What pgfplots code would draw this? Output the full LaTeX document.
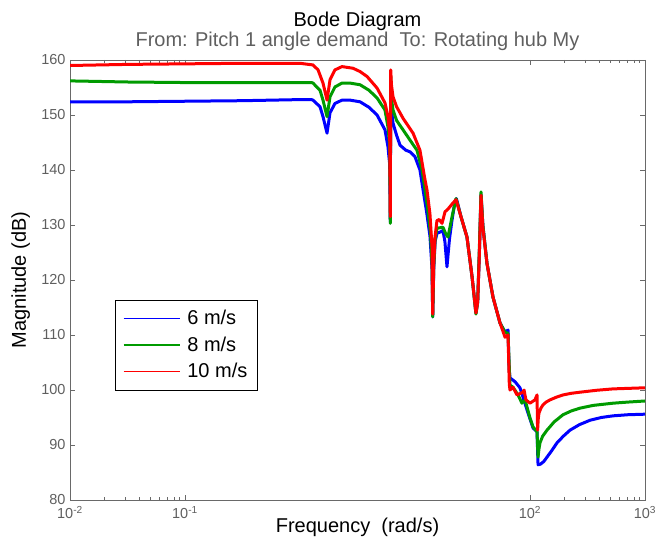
\documentclass[border=0pt]{standalone}
\usepackage{pgfplots}
\pgfplotsset{compat=1.18}
\usepackage{fontspec}
\setmainfont{Liberation Sans}
\definecolor{mblue}{RGB}{0,0,255}
\definecolor{mgreen}{RGB}{0,155,0}
\definecolor{mred}{RGB}{255,0,0}
\definecolor{axgray}{RGB}{105,105,105}
\definecolor{txtgray}{RGB}{95,95,95}
\newcommand{\fL}{\fontsize{20bp}{24bp}\selectfont}
\newcommand{\fT}{\fontsize{14.5bp}{17bp}\selectfont}

\pgfplotstableread{
L M
-2.000 152.4
-1.500 152.4
-1.000 152.5
-0.500 152.6
0.000 152.8
0.100 152.8
0.113 152.7
0.174 151.5
0.200 149.7
0.235 146.7
0.261 150.4
0.304 152.1
0.365 152.7
0.435 152.7
0.522 152.4
0.600 151.4
0.670 150.0
0.739 147.3
0.765 144.2
0.780 141.0
0.785 130.5
0.789 156.0
0.795 151.0
0.809 148.5
0.840 146.3
0.870 144.5
0.920 143.6
0.957 143.3
1.000 142.4
1.043 140.0
1.070 136.4
1.100 132.5
1.130 128.0
1.148 122.0
1.154 113.3
1.163 122.0
1.175 127.0
1.191 128.5
1.217 128.7
1.243 129.0
1.260 127.0
1.278 122.4
1.300 127.5
1.322 130.9
1.345 134.0
1.360 134.8
1.400 131.5
1.452 127.8
1.496 120.6
1.530 114.0
1.545 116.0
1.560 125.0
1.574 135.5
1.590 130.0
1.626 123.0
1.678 116.9
1.739 112.2
1.783 110.5
1.809 110.9
1.818 104.0
1.826 102.2
1.870 101.5
1.913 100.4
1.939 98.7
1.983 95.8
2.026 93.1
2.061 92.4
2.070 86.4
2.090 86.5
2.120 87.0
2.148 87.8
2.190 89.0
2.235 90.4
2.290 91.6
2.348 92.7
2.430 93.7
2.522 94.5
2.620 95.0
2.722 95.3
2.850 95.5
3.000 95.6
}\tblue

\pgfplotstableread{
L M
-2.000 156.2
-1.500 156.0
-1.000 155.9
-0.500 155.9
0.000 155.9
0.100 155.9
0.113 155.8
0.174 154.5
0.200 152.7
0.235 149.7
0.261 153.3
0.304 155.1
0.365 155.8
0.435 155.8
0.522 155.5
0.600 154.5
0.670 153.1
0.739 150.9
0.765 147.8
0.780 144.5
0.785 130.3
0.789 157.0
0.795 153.0
0.809 150.9
0.840 149.0
0.896 147.3
0.974 144.9
1.017 143.6
1.061 140.0
1.087 136.4
1.110 133.0
1.135 128.5
1.148 123.0
1.154 113.3
1.163 122.5
1.175 127.5
1.191 129.4
1.217 129.5
1.243 129.6
1.265 128.5
1.287 127.8
1.322 131.5
1.357 134.8
1.400 131.5
1.452 127.8
1.496 120.6
1.530 113.8
1.545 116.0
1.560 126.0
1.574 136.0
1.590 130.0
1.626 123.0
1.678 116.9
1.739 112.2
1.783 110.5
1.809 110.3
1.820 104.0
1.826 100.9
1.852 100.5
1.896 99.1
1.930 97.6
1.957 98.2
1.974 96.9
2.000 94.9
2.026 93.3
2.061 92.4
2.070 87.8
2.078 89.3
2.087 90.4
2.110 91.6
2.148 92.7
2.210 94.2
2.287 95.5
2.360 96.2
2.435 96.7
2.550 97.2
2.722 97.6
2.850 97.8
3.000 98.0
}\tgreen

\pgfplotstableread{
L M
-2.000 159.0
-1.500 159.2
-1.000 159.3
-0.500 159.4
0.000 159.4
0.113 159.1
0.157 158.2
0.200 155.8
0.235 152.7
0.261 156.4
0.304 158.2
0.365 158.8
0.461 158.5
0.522 157.9
0.583 157.0
0.670 154.9
0.739 152.2
0.765 149.7
0.780 146.5
0.785 131.5
0.789 158.2
0.795 155.5
0.809 153.3
0.840 151.5
0.896 149.4
0.983 146.7
1.043 143.6
1.087 138.2
1.104 136.4
1.130 132.0
1.148 126.0
1.154 113.8
1.163 123.0
1.174 127.8
1.191 130.8
1.210 131.0
1.235 130.3
1.250 131.5
1.261 132.4
1.287 132.9
1.330 134.0
1.357 134.6
1.400 131.5
1.452 127.8
1.496 120.6
1.530 114.0
1.545 116.0
1.560 125.0
1.574 135.4
1.590 129.5
1.626 123.0
1.678 116.9
1.739 112.2
1.783 109.6
1.809 110.0
1.820 101.0
1.826 100.0
1.852 100.5
1.887 99.1
1.939 99.6
1.948 100.0
1.965 98.2
2.000 97.6
2.043 98.2
2.061 99.1
2.066 92.7
2.072 94.8
2.078 95.8
2.095 96.7
2.113 97.3
2.140 97.8
2.174 98.2
2.230 98.7
2.287 99.1
2.360 99.4
2.435 99.6
2.580 99.95
2.722 100.2
3.000 100.4
}\tred

\begin{document}
\begin{tikzpicture}
\begin{axis}[
  scale only axis, width=575bp, height=440bp,
  xmin=-2, xmax=3, ymin=80, ymax=160,
  xtick={-2,-1,2,3},
  xticklabels={10\textsuperscript{-2},10\textsuperscript{-1},10\textsuperscript{2},10\textsuperscript{3}},
  minor xtick={-1.699,-1.523,-1.398,-1.301,-1.222,-1.155,-1.097,-1.046,2.301,2.477,2.602,2.699,2.778,2.845,2.903,2.954},
  ytick={80,90,...,160},
  tick align=inside,
  major tick length=5bp, minor tick length=3bp,
  axis line style={axgray, line width=0.6bp},
  every tick/.style={axgray, line width=0.6bp},
  tick label style={font=\fT, text=txtgray},
  /pgf/number format/assume math mode=true,
  xticklabel style={yshift=-3bp},
  yticklabel style={xshift=-1bp},
  legend image code/.code={\draw[#1, line width=1.3bp] (0bp,0bp) -- (56bp,0bp);},
  legend style={at={(rel axis cs:0.078,0.4545)}, anchor=north west, draw=black, font=\fL, legend cell align=left, fill=white, column sep=5bp, inner xsep=8bp, inner ysep=5bp, nodes={inner sep=2pt, text depth=0.15em, minimum height=26.5bp}},
]
\addplot[mblue, line width=3bp, line join=round] table[x=L,y=M] {\tblue};
\addlegendentry{6 m/s}
\addplot[mgreen, line width=3bp, line join=round] table[x=L,y=M] {\tgreen};
\addlegendentry{8 m/s}
\addplot[mred, line width=3bp, line join=round] table[x=L,y=M] {\tred};
\addlegendentry{10 m/s}
\end{axis}
\node[anchor=base, font=\fL, inner sep=0pt] at ([yshift=33bp]current axis.north) {Bode Diagram};
\node[anchor=base, font=\fL, text=txtgray, inner sep=0pt] at ([yshift=13bp]current axis.north) {From: Pitch 1 angle demand\ \ To: Rotating hub My};
\node[anchor=base, font=\fL] at ([yshift=-33bp]current axis.south) {Frequency\ \ (rad/s)};
\node[anchor=base, font=\fL, rotate=90] at ([xshift=-44bp]current axis.west) {Magnitude (dB)};
\pgfresetboundingbox
\path[use as bounding box] ([xshift=-70bp,yshift=-37bp]current axis.south west) rectangle ([xshift=12bp,yshift=60bp]current axis.north east);
\end{tikzpicture}
\end{document}
